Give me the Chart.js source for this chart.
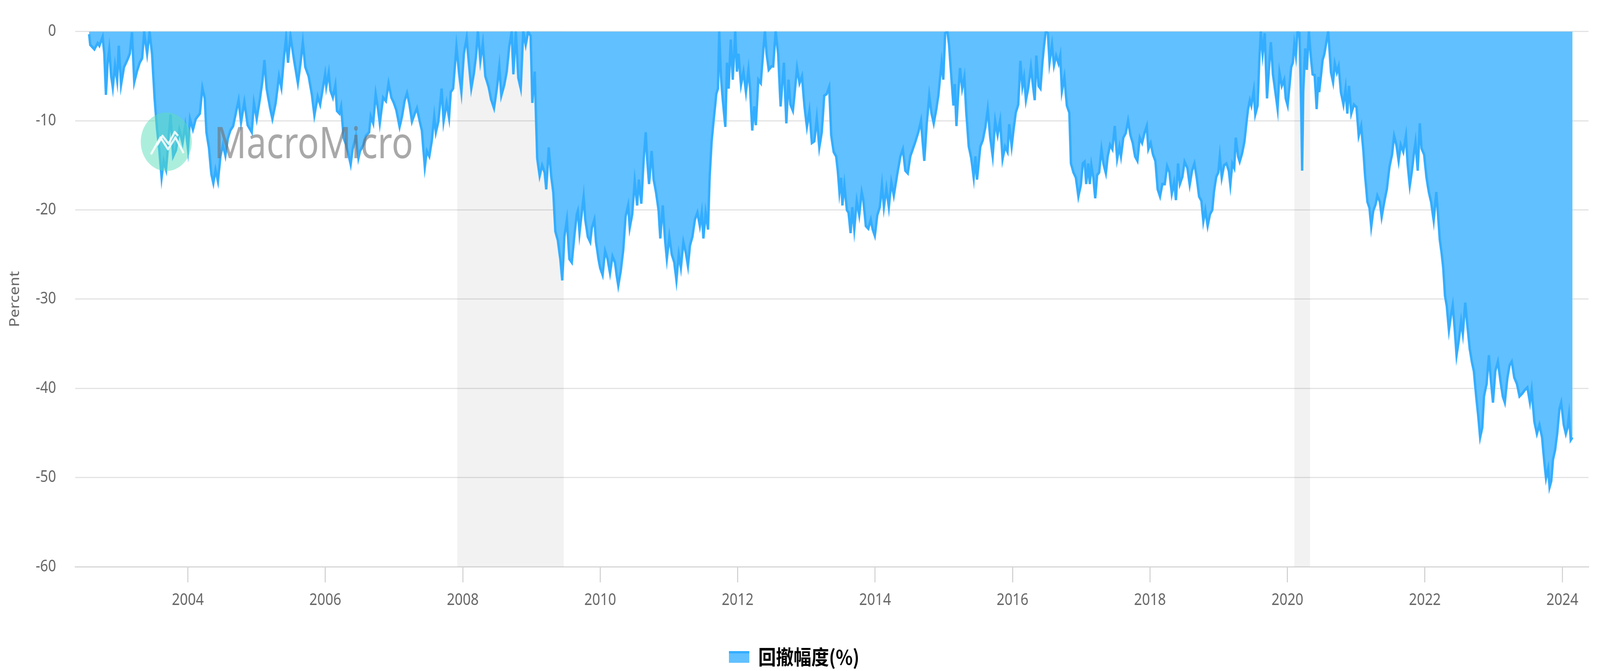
<!DOCTYPE html>
<html>
<head>
<meta charset="utf-8">
<script src="https://cdn.jsdelivr.net/npm/chart.js@4.4.1/dist/chart.umd.min.js"></script>
<style>
  html, body { margin: 0; padding: 0; background: #fff; overflow: hidden; }
</style>
</head>
<body>
<canvas id="drawdown" width="4706" height="1718" style="display:block;width:100vw;height:100vh"></canvas>
<script>
// drawdown series (decimal year, percent)
const dates = [
  2002.563, 2002.580, 2002.640, 2002.688, 2002.712, 2002.760, 2002.784, 2002.808, 2002.832, 2002.856,
  2002.884, 2002.908, 2002.940, 2002.971, 2002.995, 2003.028, 2003.071, 2003.119, 2003.155, 2003.187,
  2003.220, 2003.258, 2003.299, 2003.335, 2003.364, 2003.407, 2003.443, 2003.479, 2003.515, 2003.551,
  2003.587, 2003.618, 2003.647, 2003.683, 2003.719, 2003.748, 2003.786, 2003.827, 2003.875, 2003.923,
  2003.963, 2004.002, 2004.031, 2004.074, 2004.115, 2004.175, 2004.211, 2004.246, 2004.270, 2004.306,
  2004.342, 2004.371, 2004.402, 2004.438, 2004.474, 2004.510, 2004.546, 2004.582, 2004.618, 2004.659,
  2004.702, 2004.738, 2004.774, 2004.822, 2004.870, 2004.930, 2004.961, 2005.002, 2005.050, 2005.086,
  2005.114, 2005.146, 2005.194, 2005.230, 2005.278, 2005.326, 2005.361, 2005.397, 2005.429, 2005.457,
  2005.493, 2005.541, 2005.601, 2005.637, 2005.673, 2005.709, 2005.757, 2005.805, 2005.841, 2005.889,
  2005.925, 2005.961, 2005.997,
  2006.014, 2006.050, 2006.074, 2006.110, 2006.146, 2006.170, 2006.206, 2006.230, 2006.266, 2006.302,
  2006.338, 2006.369, 2006.398, 2006.446, 2006.482, 2006.506, 2006.554, 2006.590, 2006.637, 2006.661,
  2006.697, 2006.733, 2006.769, 2006.793, 2006.841, 2006.882, 2006.920, 2006.961, 2006.997, 2007.033,
  2007.081, 2007.117, 2007.153, 2007.189, 2007.225, 2007.261, 2007.297, 2007.333, 2007.369, 2007.405,
  2007.448, 2007.477, 2007.513, 2007.549, 2007.585, 2007.609, 2007.645, 2007.693, 2007.721, 2007.765,
  2007.801, 2007.825, 2007.860, 2007.908, 2007.944, 2007.980, 2008.016, 2008.057, 2008.088, 2008.124,
  2008.160, 2008.191, 2008.220, 2008.256, 2008.292, 2008.328, 2008.376, 2008.412, 2008.455, 2008.496,
  2008.532, 2008.561, 2008.604, 2008.640, 2008.676, 2008.712, 2008.736, 2008.772, 2008.808, 2008.844,
  2008.880, 2008.916, 2008.952, 2008.988, 2009.012, 2009.047, 2009.083, 2009.119, 2009.155, 2009.191,
  2009.215, 2009.251, 2009.287, 2009.318, 2009.347, 2009.383, 2009.419, 2009.448, 2009.479, 2009.515,
  2009.551, 2009.587, 2009.623, 2009.659,
  2009.675, 2009.699, 2009.735, 2009.759, 2009.783, 2009.819, 2009.855, 2009.879, 2009.915, 2009.939,
  2009.975, 2009.999, 2010.035, 2010.071, 2010.107, 2010.143, 2010.179, 2010.215, 2010.239, 2010.263,
  2010.298, 2010.334, 2010.370, 2010.406, 2010.430, 2010.466, 2010.502, 2010.538, 2010.562, 2010.598,
  2010.634, 2010.663, 2010.682, 2010.711, 2010.749, 2010.778, 2010.814, 2010.850, 2010.874, 2010.910,
  2010.946, 2010.970, 2011.006, 2011.042, 2011.078, 2011.109, 2011.143, 2011.174, 2011.210, 2011.246,
  2011.277, 2011.306, 2011.342, 2011.378, 2011.414, 2011.450, 2011.478, 2011.502, 2011.534, 2011.569,
  2011.593, 2011.622, 2011.641, 2011.665, 2011.689, 2011.713, 2011.732, 2011.756, 2011.785, 2011.821,
  2011.845, 2011.869, 2011.900, 2011.929, 2011.965, 2011.989, 2012.013, 2012.049, 2012.085, 2012.121,
  2012.157, 2012.181, 2012.212, 2012.241, 2012.265, 2012.301, 2012.337, 2012.373, 2012.397, 2012.421,
  2012.452, 2012.493, 2012.517, 2012.553, 2012.589, 2012.625, 2012.673, 2012.708, 2012.740, 2012.768,
  2012.804, 2012.836, 2012.864, 2012.900, 2012.936, 2012.972, 2013.008, 2013.044, 2013.080, 2013.116,
  2013.152, 2013.188, 2013.224, 2013.260, 2013.296, 2013.332,
  2013.361, 2013.397, 2013.433, 2013.457, 2013.481, 2013.505, 2013.524, 2013.553, 2013.589, 2013.613,
  2013.644, 2013.668, 2013.697, 2013.733, 2013.769, 2013.805, 2013.829, 2013.865, 2013.901, 2013.937,
  2013.965, 2013.996, 2014.032, 2014.068, 2014.100, 2014.128, 2014.164, 2014.200, 2014.236, 2014.272,
  2014.320, 2014.368, 2014.404, 2014.440, 2014.476, 2014.512, 2014.548, 2014.584, 2014.632, 2014.668,
  2014.692, 2014.716, 2014.752, 2014.788, 2014.819, 2014.853, 2014.891, 2014.920, 2014.944, 2014.968,
  2014.992, 2015.020, 2015.052, 2015.076, 2015.112, 2015.140, 2015.160, 2015.183, 2015.212, 2015.236,
  2015.267, 2015.299, 2015.327, 2015.363, 2015.399, 2015.435, 2015.459, 2015.483, 2015.507, 2015.531,
  2015.567, 2015.603, 2015.639, 2015.675, 2015.711, 2015.747, 2015.783, 2015.819, 2015.855, 2015.891,
  2015.927, 2015.951, 2015.987, 2016.018, 2016.047, 2016.083, 2016.114, 2016.143, 2016.167, 2016.195,
  2016.227, 2016.267, 2016.299, 2016.323, 2016.346, 2016.378, 2016.406, 2016.435, 2016.454, 2016.483,
  2016.514, 2016.538, 2016.574, 2016.603, 2016.634, 2016.670, 2016.694, 2016.718, 2016.754, 2016.790,
  2016.826, 2016.850, 2016.886, 2016.922, 2016.958, 2016.994,
  2017.022, 2017.049, 2017.072, 2017.101, 2017.124, 2017.147, 2017.176, 2017.203, 2017.231, 2017.260,
  2017.294, 2017.322, 2017.358, 2017.385, 2017.419, 2017.453, 2017.487, 2017.522, 2017.556, 2017.578,
  2017.612, 2017.647, 2017.681, 2017.715, 2017.749, 2017.783, 2017.817, 2017.851, 2017.885, 2017.919,
  2017.953, 2017.976, 2018.010, 2018.044, 2018.078, 2018.112, 2018.146, 2018.180, 2018.215, 2018.249,
  2018.283, 2018.317, 2018.351, 2018.378, 2018.408, 2018.435, 2018.471, 2018.503, 2018.544, 2018.578,
  2018.612, 2018.646, 2018.680, 2018.714, 2018.748, 2018.776, 2018.805, 2018.839, 2018.873, 2018.907,
  2018.930, 2018.964, 2018.994, 2019.016, 2019.044, 2019.078, 2019.112, 2019.146, 2019.169, 2019.198,
  2019.226, 2019.248, 2019.282, 2019.305, 2019.339, 2019.373, 2019.403, 2019.425, 2019.453, 2019.475,
  2019.510, 2019.532, 2019.566, 2019.589, 2019.612, 2019.639, 2019.669, 2019.703, 2019.737, 2019.759,
  2019.789, 2019.828, 2019.857, 2019.884, 2019.918, 2019.953, 2019.975, 2020.003, 2020.032, 2020.055,
  2020.078, 2020.100, 2020.123, 2020.146, 2020.175, 2020.191, 2020.203, 2020.214, 2020.230, 2020.259,
  2020.282, 2020.312, 2020.339, 2020.366, 2020.396, 2020.425, 2020.452,
  2020.462, 2020.487, 2020.512, 2020.538, 2020.568, 2020.593, 2020.613, 2020.634, 2020.664, 2020.689,
  2020.719, 2020.745, 2020.778, 2020.815, 2020.846, 2020.871, 2020.896, 2020.929, 2020.967, 2021.005,
  2021.037, 2021.073, 2021.106, 2021.131, 2021.164, 2021.194, 2021.219, 2021.249, 2021.282, 2021.308,
  2021.345, 2021.371, 2021.409, 2021.446, 2021.484, 2021.522, 2021.552, 2021.585, 2021.618, 2021.648,
  2021.686, 2021.724, 2021.749, 2021.780, 2021.812, 2021.838, 2021.863, 2021.896, 2021.926, 2021.951,
  2021.989, 2022.022, 2022.057, 2022.090, 2022.128, 2022.166, 2022.191, 2022.216, 2022.241, 2022.267,
  2022.292, 2022.317, 2022.350, 2022.380, 2022.405, 2022.431, 2022.461, 2022.494, 2022.527, 2022.552,
  2022.587, 2022.620, 2022.653, 2022.683, 2022.713, 2022.746, 2022.771, 2022.804, 2022.835, 2022.860,
  2022.898, 2022.931, 2022.961, 2022.991, 2023.024, 2023.062, 2023.100, 2023.133, 2023.163, 2023.201,
  2023.233, 2023.264, 2023.301, 2023.339, 2023.377, 2023.415, 2023.453, 2023.491, 2023.529, 2023.554,
  2023.592, 2023.630, 2023.667, 2023.705, 2023.738, 2023.763, 2023.794, 2023.814, 2023.839, 2023.864,
  2023.895, 2023.925, 2023.958, 2023.983, 2024.021, 2024.051, 2024.076, 2024.097, 2024.122, 2024.147
];

const drawdown = [
  -0.3, -1.5, -2.0, -1.3, -1.6, -0.6, -2.5, -7.1, -3.5, -2.0,
  -5.0, -6.3, -3.8, -5.5, -1.6, -6.0, -4.0, -3.2, -2.5, -0.1,
  -5.7, -4.5, -3.5, -3.0, -0.1, -2.5, -0.1, -2.5, -7.4, -10.9,
  -13.5, -16.4, -14.5, -15.5, -12.0, -9.3, -14.0, -13.3, -11.0, -12.5,
  -10.5, -13.2, -9.8, -11.0, -9.8, -9.2, -6.3, -7.5, -11.3, -13.0,
  -16.0, -17.0, -15.5, -16.8, -14.0, -12.7, -13.9, -12.0, -11.1, -10.6,
  -9.0, -7.7, -10.2, -7.9, -10.5, -11.3, -8.0, -9.8, -7.5, -5.5,
  -3.2, -6.4, -8.5, -9.8, -8.0, -5.0, -6.3, -3.0, -0.7, -3.5,
  -0.5, -3.0, -5.8, -3.7, -1.2, -4.0, -5.0, -7.1, -9.4, -7.3,
  -8.2, -6.5, -4.8,
  -6.2, -4.6, -6.6, -7.4, -6.0, -8.9, -9.2, -8.4, -11.9, -12.7,
  -13.8, -14.9, -13.2, -11.7, -14.2, -13.4, -12.7, -11.7, -11.3, -9.5,
  -10.3, -7.0, -8.8, -10.3, -7.4, -7.8, -5.8, -7.4, -8.0, -8.8,
  -10.7, -9.5, -7.8, -6.9, -8.2, -10.1, -9.3, -8.6, -9.9, -11.1,
  -15.2, -13.4, -14.0, -12.3, -9.5, -11.3, -10.1, -6.4, -10.1, -8.0,
  -9.7, -6.8, -6.4, -1.7, -4.5, -6.8, -2.5, -0.7, -3.5, -6.4,
  -4.8, -2.9, 0, -3.3, -1.3, -5.0, -6.2, -7.6, -8.6, -6.4,
  -3.9, -7.2, -6.0, -4.5, -1.7, 0, -4.8, 0, -5.2, -6.4,
  0, -1.5, 0, -0.5, -8.0, -4.5, -14.2, -16.2, -15.0, -15.8,
  -17.7, -13.0, -16.2, -18.1, -22.4, -23.4, -25.5, -27.9, -23.0, -21.1,
  -25.5, -25.9, -23.0, -20.5,
  -20.1, -22.6, -20.1, -18.5, -21.1, -23.0, -23.6, -22.0, -21.1, -23.6,
  -25.5, -26.5, -27.3, -24.6, -25.5, -27.1, -25.2, -25.9, -27.3, -28.5,
  -26.9, -24.6, -20.7, -19.5, -22.0, -20.5, -16.8, -19.5, -16.6, -19.3,
  -14.2, -11.3, -14.2, -17.1, -13.4, -16.6, -18.1, -20.1, -23.2, -19.5,
  -23.6, -25.5, -23.0, -25.0, -25.9, -27.9, -25.0, -26.5, -23.6, -24.8,
  -26.3, -24.0, -23.0, -21.1, -20.3, -21.8, -20.3, -23.2, -20.3, -22.2,
  -16.2, -12.3, -10.7, -8.9, -7.0, -6.4, 0, -5.0, -7.8, -10.7,
  -3.5, -6.4, -0.9, -5.4, 0, -4.5, -2.5, -6.0, -4.5, -6.8,
  -4.3, -6.4, -11.1, -8.4, -10.5, -5.4, -5.8, -2.1, 0, -2.5,
  -4.3, -3.9, -3.9, 0, -2.5, -8.4, -3.5, -10.3, -5.4, -8.2,
  -8.9, -6.4, -4.1, -5.8, -5.0, -8.4, -10.7, -8.9, -12.5, -12.3,
  -9.7, -13.0, -11.3, -7.2, -7.0, -6.2,
  -11.6, -13.5, -14.0, -15.6, -18.0, -16.4, -19.5, -17.2, -20.0, -20.3,
  -22.6, -19.7, -22.2, -19.0, -20.6, -18.0, -18.9, -21.8, -22.1, -21.1,
  -22.2, -22.9, -20.6, -19.7, -17.2, -19.7, -17.6, -19.7, -16.9, -18.4,
  -16.1, -14.0, -13.2, -15.6, -15.9, -14.0, -13.2, -12.4, -11.2, -10.0,
  -12.4, -14.5, -10.3, -7.2, -9.1, -10.3, -8.7, -7.2, -5.3, -3.5,
  -5.4, -0.2, 0, -1.5, -5.4, -8.3, -5.9, -10.6, -6.7, -4.1,
  -6.4, -5.1, -9.1, -12.9, -14.2, -16.4, -14.0, -16.6, -14.8, -12.9,
  -12.2, -10.8, -8.7, -11.9, -14.0, -10.0, -11.6, -10.0, -14.3, -12.9,
  -13.5, -10.4, -12.9, -10.8, -9.1, -8.2, -3.3, -6.2, -5.1, -7.7,
  -6.4, -4.0, -6.2, -7.7, -2.7, -6.1, -6.4, -3.5, -1.9, 0,
  -0.2, -3.5, -1.5, -3.8, -2.7, -3.6, -2.7, -6.7, -5.1, -8.3,
  -9.1, -14.8, -15.8, -16.4, -18.5, -17.2,
  -14.8, -14.6, -17.1, -14.8, -17.1, -15.0, -16.4, -18.7, -16.1, -15.8,
  -13.2, -14.8, -15.9, -14.0, -12.7, -13.2, -10.6, -14.3, -12.9, -14.0,
  -11.9, -11.4, -10.0, -11.6, -12.5, -14.0, -14.5, -11.9, -12.5, -11.4,
  -10.6, -13.2, -12.5, -13.8, -14.5, -17.7, -18.5, -17.1, -17.1, -15.1,
  -15.8, -18.2, -16.9, -18.9, -14.8, -17.1, -16.3, -14.6, -15.3, -17.2,
  -15.6, -14.8, -16.4, -18.5, -19.0, -21.3, -20.0, -21.8, -20.5, -20.0,
  -18.0, -16.3, -15.8, -14.0, -16.4, -15.0, -14.8, -15.6, -17.2, -14.8,
  -15.3, -11.9, -14.0, -14.6, -13.7, -12.4, -10.3, -8.8, -7.7, -8.3,
  -6.6, -9.3, -8.3, -3.5, 0, -2.5, -0.2, -7.5, -3.5, -1.2,
  -4.8, -7.0, -8.7, -4.6, -6.1, -5.4, -7.5, -8.3, -5.9, -4.0,
  -3.5, -1.4, -2.7, 0, -0.2, -5.4, -10.0, -15.6, -6.7, -1.9,
  -4.3, 0, -2.7, -4.8, -4.9, -8.7, -5.1,
  -6.8, -5.0, -3.2, -2.5, -1.1, 0, -2.2, -4.6, -5.7, -3.6,
  -4.6, -3.9, -6.8, -8.2, -6.4, -9.2, -6.1, -9.2, -8.2, -8.5,
  -11.7, -10.6, -13.5, -16.3, -19.1, -19.8, -21.9, -20.1, -19.4, -18.4,
  -19.1, -20.8, -19.1, -17.7, -15.2, -13.8, -11.7, -12.7, -14.5, -12.7,
  -13.5, -11.7, -14.9, -17.3, -15.6, -13.8, -12.4, -15.6, -10.3, -13.1,
  -13.8, -16.3, -18.0, -19.1, -21.2, -18.0, -20.5, -23.3, -24.7, -26.5,
  -29.6, -30.7, -33.5, -31.8, -30.7, -33.1, -36.3, -34.6, -32.5, -33.9,
  -30.4, -33.1, -35.6, -37.0, -38.1, -40.9, -42.7, -45.5, -44.4, -40.9,
  -39.5, -36.3, -39.2, -41.6, -38.1, -37.0, -39.2, -40.9, -41.6, -38.8,
  -37.4, -37.0, -38.8, -39.5, -40.9, -40.6, -40.2, -39.9, -41.6, -40.2,
  -43.7, -45.1, -44.1, -45.5, -48.3, -50.1, -49.0, -51.1, -50.4, -48.0,
  -46.9, -45.1, -42.3, -41.6, -44.1, -45.1, -44.4, -43.0, -45.8, -45.5
];

const xTicks = [2004, 2006, 2008, 2010, 2012, 2014, 2016, 2018, 2020, 2022, 2024];
const yTicks = [0, -10, -20, -30, -40, -50, -60];
// shaded recession periods
const recessions = [[2007.92, 2009.47], [2020.10, 2020.33]];

const seriesName = '回撤幅度(%)';
const yTitle = 'Percent';
const lineColor = '#33adff';
const fillColor = '#61c0ff';

Chart.defaults.font.family = '"Noto Sans", sans-serif';

// legend icon: light fill with a darker top edge
const icon = document.createElement('canvas');
icon.width = 60;
icon.height = 30;
const ig = icon.getContext('2d');
ig.fillStyle = fillColor;
ig.fillRect(0, 0, 60, 30);
ig.fillStyle = lineColor;
ig.fillRect(0, 0, 60, 6);

const bands = {
  id: 'bands',
  beforeDatasetsDraw(chart) {
    const { ctx, chartArea, scales } = chart;
    ctx.save();
    ctx.fillStyle = 'rgba(0,0,0,0.05)';
    recessions.forEach(([s, e]) => {
      const x0 = scales.x.getPixelForValue(s);
      const x1 = scales.x.getPixelForValue(e);
      ctx.fillRect(x0, chartArea.top, x1 - x0, chartArea.bottom - chartArea.top);
    });
    ctx.restore();
  }
};

const watermark = {
  id: 'watermark',
  afterDatasetsDraw(chart) {
    const ctx = chart.ctx;
    ctx.save();
    ctx.fillStyle = 'rgba(90,222,186,0.5)';
    ctx.beginPath();
    ctx.arc(489, 363, 75, 0, Math.PI * 2);
    ctx.fill();
    ctx.strokeStyle = 'rgba(255,255,255,0.85)';
    ctx.lineWidth = 6;
    ctx.lineJoin = 'round';
    ctx.beginPath();
    ctx.moveTo(444, 395); ctx.lineTo(472, 352); ctx.lineTo(494, 382);
    ctx.lineTo(516, 352); ctx.lineTo(540, 392);
    ctx.stroke();
    ctx.beginPath();
    ctx.moveTo(462, 372); ctx.lineTo(478, 348); ctx.lineTo(496, 368);
    ctx.lineTo(514, 338); ctx.lineTo(524, 348);
    ctx.stroke();
    ctx.font = '400 112px "Noto Sans"';
    ctx.fillStyle = 'rgba(110,110,110,0.6)';
    ctx.textBaseline = 'alphabetic';
    const w = ctx.measureText('MacroMicro').width;
    ctx.save();
    ctx.translate(630, 405);
    ctx.scale(585 / w, 1);
    ctx.fillText('MacroMicro', 0, 0);
    ctx.restore();
    ctx.restore();
  }
};

const ctx = document.getElementById('drawdown').getContext('2d');

new Chart(ctx, {
  type: 'line',
  data: {
    datasets: [{
      label: seriesName,
      data: dates.map((d, i) => ({ x: d, y: drawdown[i] })),
      borderColor: lineColor,
      backgroundColor: fillColor,
      fill: 'origin',
      borderWidth: 7,
      pointRadius: 0,
      tension: 0
    }]
  },
  options: {
    responsive: false,
    devicePixelRatio: 1,
    animation: false,
    layout: { padding: { top: 33, right: 34, left: 0, bottom: 0 } },
    scales: {
      x: {
        type: 'linear',
        min: 2002.36,
        max: 2024.38,
        afterBuildTicks: axis => { axis.ticks = xTicks.map(v => ({ value: v })); },
        afterFit: axis => { axis.height = 195; },
        ticks: {
          callback: v => String(v),
          color: '#666',
          font: { size: 41 },
          padding: 22,
          maxRotation: 0,
          autoSkip: false
        },
        grid: { drawOnChartArea: false, drawTicks: true, tickLength: 40, color: '#cfcfcf', lineWidth: 3 },
        border: { display: true, color: '#d6d6d6', width: 3 }
      },
      y: {
        min: -60,
        max: 0,
        afterBuildTicks: axis => { axis.ticks = yTicks.map(v => ({ value: v })); },
        afterFit: axis => { axis.width = 221; },
        ticks: { color: '#666', font: { size: 41 }, padding: 56 },
        grid: { color: '#e3e3e3', lineWidth: 3, drawTicks: false },
        border: { display: false },
        title: {
          display: true,
          text: yTitle,
          color: '#666',
          font: { size: 40 },
          padding: { top: 21, bottom: 0 }
        }
      }
    },
    plugins: {
      legend: {
        position: 'bottom',
        labels: {
          usePointStyle: true,
          pointStyleWidth: 60,
          boxHeight: 30,
          padding: 10,
          color: '#111',
          font: { size: 52, weight: 'bold', family: '"Noto Sans CJK SC", "Noto Sans", sans-serif' },
          generateLabels: () => [{
            text: seriesName,
            pointStyle: icon,
            fillStyle: fillColor,
            strokeStyle: lineColor,
            lineWidth: 0,
            hidden: false,
            datasetIndex: 0
          }]
        }
      },
      tooltip: { enabled: false }
    }
  },
  plugins: [bands, watermark]
});
</script>
</body>
</html>
